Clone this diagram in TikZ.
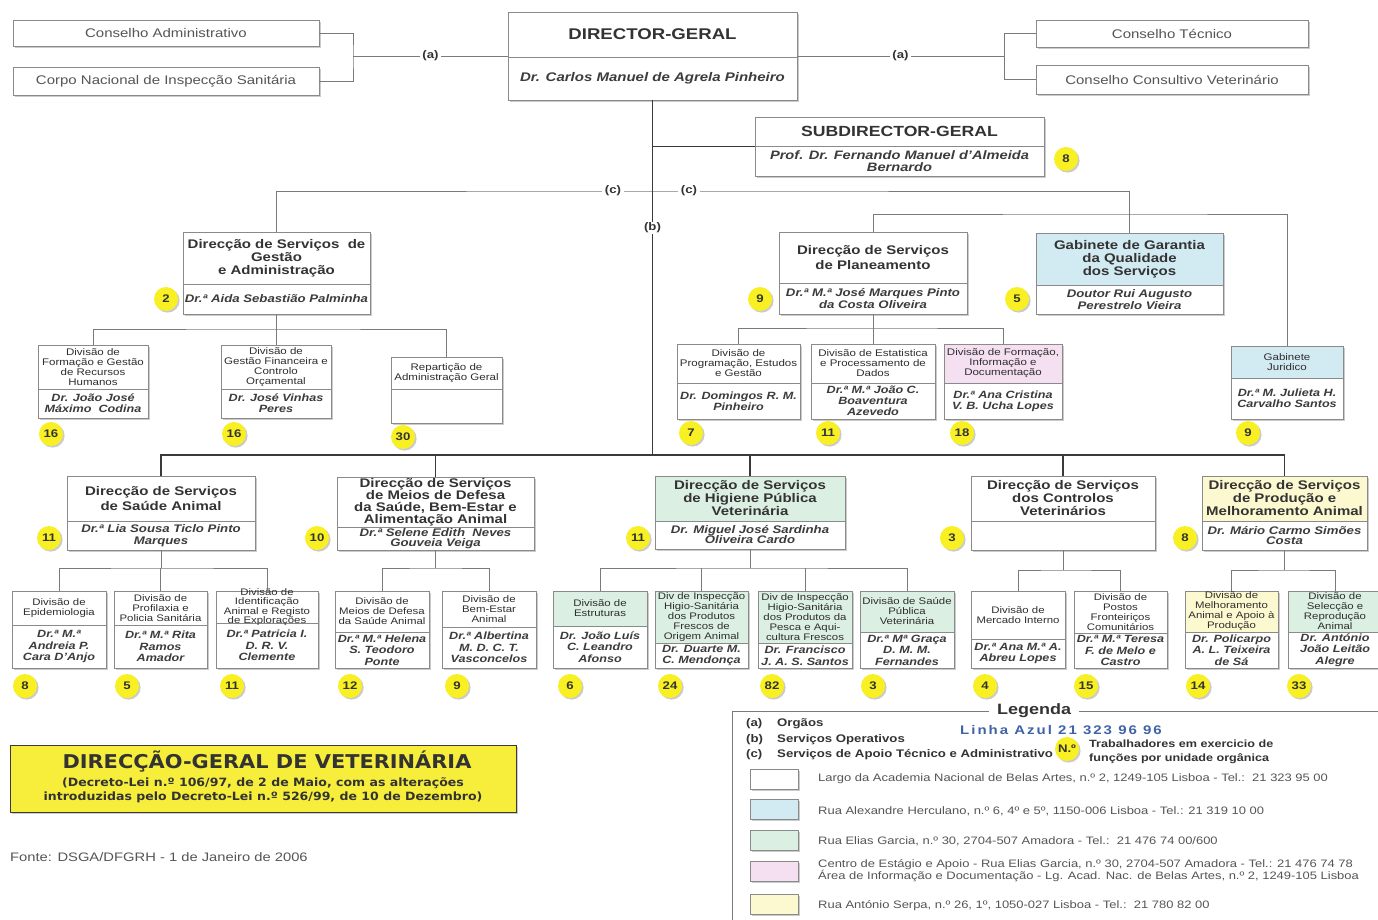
\documentclass[tikz,border=0pt]{standalone}
\usepackage{fontspec}
\setmainfont{Liberation Sans}[FakeStretch=1.2]
\newfontfamily\dvs{DejaVu Sans}[FakeStretch=1.1]
\usetikzlibrary{fit,shadows}
\definecolor{txtc}{HTML}{333333}
\definecolor{nmc}{HTML}{3C3C3C}
\definecolor{divc}{HTML}{2E2E2E}
\definecolor{linec}{HTML}{7A7A7A}
\definecolor{darkc}{HTML}{3A3A3A}
\definecolor{boxc}{HTML}{8A8A8A}
\definecolor{cblue}{HTML}{D2EAF1}
\definecolor{cgreen}{HTML}{DCEFE3}
\definecolor{cpink}{HTML}{F4E0F0}
\definecolor{cyel}{HTML}{FCF9D0}
\definecolor{badgec}{HTML}{F8F022}
\definecolor{tyel}{HTML}{F6EE3A}
\definecolor{azulc}{HTML}{3F62A8}
\definecolor{legc}{HTML}{555555}
\newcommand\fsz[2]{\fontsize{#1}{#2}\selectfont}
% name, x1, y1, x2, ydivider, y2, top fill, title, person
\newcommand\obox[9]{%
  \node[fit={(#2,#3)(#4,#6)}, inner sep=0pt, outer sep=0pt, fill=white, shad] (#1) {};
  \fill[#7] (#2,#3) rectangle (#4,#5);
  \draw[bx] (#2,#5) -- (#4,#5);
  \draw[bx] (#1.north west) rectangle (#1.south east);
  \node[ttl] (#1t) at ({(#2+#4)/2},{(#3+#5)/2}) {#8};
  \node[nm] (#1n) at ({(#2+#4)/2},{(#5+#6)/2}) {#9};
}
\newcommand\badge[3]{\node[bdg] (#1) at (#2) {#3};}
\begin{document}
\begin{tikzpicture}[x=1pt,y=-1pt,
  lin/.style={draw=linec, line width=0.9pt},
  trunk/.style={draw=darkc, line width=1.5pt},
  bx/.style={draw=boxc, line width=0.8pt},
  shad/.style={drop shadow={shadow xshift=1.6pt, shadow yshift=-1.6pt, opacity=0.45, fill=black!45}},
  sbox/.style={draw=boxc, line width=0.8pt, fill=white, shad, inner sep=0pt, outer sep=0pt, font=\fsz{12.5}{14}, text=legc},
  lbl/.style={fill=white, inner xsep=2.5pt, inner ysep=1pt, font=\bfseries\fsz{11}{12}, text=txtc},
  bdg/.style={circle, fill=badgec, minimum size=24pt, inner sep=0pt, shad, font=\bfseries\fsz{11}{12}, text=txtc},
  ttl/.style={align=center, inner sep=0pt, text=txtc},
  nm/.style={align=center, inner sep=0pt, text=nmc},
  legb/.style={font=\bfseries\fsz{11}{12}, text=txtc, inner sep=0pt},
  legt/.style={font=\fsz{10.8}{12.2}, text=legc, inner sep=0pt, align=left},
  sw/.style={draw=boxc, line width=0.8pt, minimum width=48pt, minimum height=20pt, inner sep=0pt, shad},
]
\path[use as bounding box, fill=white] (0,0) rectangle (1378,920);

% ---------- top level ----------
\node[sbox, minimum width=306pt, minimum height=26pt] (ca) at (166,33) {Conselho Administrativo};
\node[sbox, minimum width=306pt, minimum height=28pt] (cn) at (166,81) {Corpo Nacional de Inspecção Sanitária};
\node[sbox, minimum width=272pt, minimum height=27pt] (ct) at (1172,33.5) {Conselho Técnico};
\node[sbox, minimum width=272pt, minimum height=29pt] (cc) at (1172,79.5) {Conselho Consultivo Veterinário};

\begin{scope}[ttl/.append style={font=\bfseries\fsz{15.5}{16}}, nm/.append style={font=\bfseries\itshape\fsz{12.5}{12}}]
\obox{dg}{508}{12}{797}{57}{100}{white}{DIRECTOR-GERAL}{Dr. Carlos Manuel de Agrela Pinheiro}
\end{scope}
\begin{scope}[ttl/.append style={font=\bfseries\fsz{14.7}{15}}, nm/.append style={font=\bfseries\itshape\fsz{12.2}{11.5}}]
\obox{sd}{755}{117}{1044}{146}{176}{white}{SUBDIRECTOR-GERAL}{Prof. Dr. Fernando Manuel d'Almeida\\Bernardo}
\end{scope}

% ---------- first level ----------
\begin{scope}[ttl/.append style={font=\bfseries\fsz{12.5}{13}}, nm/.append style={font=\bfseries\itshape\fsz{11}{12}}]
\obox{dsga}{183}{232}{370}{284}{314}{white}{Direcção de Serviços\ \ de\\Gestão\\e Administração}{Dr.ª Aida Sebastião Palminha}
\obox{dsp}{779}{232}{967}{283}{314}{white}{Direcção de Serviços\\[2pt]de Planeamento}{Dr.ª M.ª José Marques Pinto\\da Costa Oliveira}
\obox{ggqs}{1036}{233}{1223}{285}{314}{cblue}{Gabinete de Garantia\\da Qualidade\\dos Serviços}{Doutor Rui Augusto\\Perestrelo Vieira}
\end{scope}

\begin{scope}[ttl/.append style={font=\fsz{9.6}{10}, text=divc}, nm/.append style={font=\bfseries\itshape\fsz{10.5}{11}}]
\obox{dfg}{38}{345}{148}{389}{418}{white}{Divisão de\\Formação e Gestão\\de Recursos\\Humanos}{Dr. João José\\Máximo\ \ Codina}
\obox{dgf}{221}{345}{331}{389}{418}{white}{Divisão de\\Gestão Financeira e\\Controlo\\Orçamental}{Dr. José Vinhas\\Peres}
\obox{rag}{391}{357}{502}{389}{423}{white}{Repartição de\\Administração Geral}{}
\obox{dpe}{677}{344}{800}{383}{419}{white}{Divisão de\\Programação, Estudos\\e Gestão}{Dr. Domingos R. M.\\Pinheiro}
\obox{dep}{811}{344}{935}{383}{419}{white}{Divisão de Estatistica\\e Processamento de\\Dados}{Dr.ª M.ª João C.\\Boaventura\\Azevedo}
\obox{dfi}{944}{344}{1062}{383}{419}{cpink}{Divisão de Formação,\\Informação e\\Documentação}{Dr.ª Ana Cristina\\V. B. Ucha Lopes}
\obox{gj}{1231}{346}{1343}{378}{419}{cblue}{Gabinete\\Juridico}{Dr.ª M. Julieta H.\\Carvalho Santos}
\end{scope}

% ---------- second level ----------
\begin{scope}[ttl/.append style={font=\bfseries\fsz{12.5}{13}}, nm/.append style={font=\bfseries\itshape\fsz{11}{11.5}}]
\obox{dssa}{67}{476}{255}{521}{550}{white}{Direcção de Serviços\\[2pt]de Saúde Animal}{Dr.ª Lia Sousa Ticlo Pinto\\Marques}
\obox{dsmd}{337}{477}{534}{527}{550}{white}{Direcção de Serviços\\[-1pt]de Meios de Defesa\\[-1pt]da Saúde, Bem-Estar e\\[-1pt]Alimentação Animal}{Dr.ª Selene Edith\ \ Neves\\[-1.8pt]Gouveia Veiga}
\obox{dshpv}{655}{476}{845}{521}{549}{cgreen}{Direcção de Serviços\\de Higiene Pública\\Veterinária}{Dr. Miguel José Sardinha\\[-1.5pt]Oliveira Cardo}
\obox{dscv}{971}{476}{1155}{521}{550}{white}{Direcção de Serviços\\dos Controlos\\Veterinários}{}
\obox{dspma}{1202}{476}{1367}{521}{550}{cyel}{Direcção de Serviços\\de Produção e\\Melhoramento Animal}{Dr. Mário Carmo Simões\\[-1pt]Costa}
\end{scope}

% ---------- third level ----------
\begin{scope}[ttl/.append style={font=\fsz{9.5}{10}, text=divc}, nm/.append style={font=\bfseries\itshape\fsz{10.5}{11.5}}]
\obox{dep1}{12}{591}{106}{625}{668}{white}{Divisão de\\Epidemiologia}{Dr.ª M.ª\\Andreia P.\\Cara D'Anjo}
\obox{dpp}{114}{591}{207}{625}{668}{white}{Divisão de\\Profilaxia e\\Policia Sanitária}{Dr.ª M.ª Rita\\Ramos\\Amador}
\obox{dia}{216}{591}{318}{623}{668}{white}{Divisão de\\[-0.8pt]Identificação\\[-0.8pt]Animal e Registo\\[-0.8pt]de Explorações}{Dr.ª Patricia I.\\D. R. V.\\Clemente}
\obox{dmd}{335}{591}{429}{632}{668}{white}{Divisão de\\Meios de Defesa\\da Saúde Animal}{Dr.ª M.ª Helena\\S. Teodoro\\Ponte}
\obox{dbe}{442}{591}{536}{627}{668}{white}{Divisão de\\Bem-Estar\\Animal}{Dr.ª Albertina\\M. D. C. T.\\Vasconcelos}
\obox{des}{553}{591}{647}{626}{668}{cgreen}{Divisão de\\Estruturas}{Dr. João Luís\\C. Leandro\\Afonso}
\obox{dio}{655}{591}{748}{643}{668}{cgreen}{Div de Inspecção\\Higio-Sanitária\\dos Produtos\\Frescos de\\Origem Animal}{Dr. Duarte M.\\C. Mendonça}
\obox{dip}{758}{591}{852}{643}{668}{cgreen}{Div de Inspecção\\Higio-Sanitária\\dos Produtos da\\Pesca e Aqui-\\cultura Frescos}{Dr. Francisco\\J. A. S. Santos}
\obox{dspv}{860}{591}{954}{632}{668}{cgreen}{Divisão de Saúde\\Pública\\Veterinária}{Dr.ª Mª Graça\\D. M. M.\\Fernandes}
\obox{dmi}{971}{591}{1065}{639}{668}{white}{Divisão de\\Mercado Interno}{Dr.ª Ana M.ª A.\\Abreu Lopes}
\obox{dpf}{1074}{591}{1167}{633}{668}{white}{Divisão de\\Postos\\Fronteiriços\\Comunitários}{Dr.ª M.ª Teresa\\F. de Melo e\\Castro}
\obox{dma}{1185}{591}{1278}{632}{668}{cyel}{Divisão de\\Melhoramento\\Animal e Apoio à\\Produção}{Dr. Policarpo\\A. L. Teixeira\\de Sá}
\obox{dsr}{1288}{591}{1382}{632}{668}{cgreen}{Divisão de\\Selecção e\\Reprodução\\Animal}{Dr. António\\João Leitão\\Alegre}
\end{scope}

% ---------- connectors ----------
\coordinate (ja) at (353,56);
\coordinate (jb) at (1004,56);
\draw[lin] (ca.east) -| (ja) |- (cn.east);
\draw[lin] (ja) -- node[lbl] (la1) {(a)} (dg.west);
\draw[lin] (ct.west) -| (jb) |- (cc.west);
\draw[lin] (dg.east) -- node[lbl] (la2) {(a)} (jb);

\coordinate (tb) at (652.5,455);
\coordinate (cl) at (652.5,191);
\coordinate (cr) at (1129.5,214);
\draw[lin] (dsga.north) |- (cl) -| (ggqs.north);
\draw[trunk] (dg.south) -- (tb);
\draw[trunk] (sd.west) -- (sd.west -| dg.south);
\node[lbl] (lc1) at (613,191) {(c)};
\node[lbl] (lc2) at (689,191) {(c)};
\node[lbl] (lbb) at (652.5,228) {(b)};
\draw[lin] (dsp.north) |- (cr) -| (gj.north);

\coordinate (ba) at (276.5,329);
\draw[lin] (dsga.south) -- (ba);
\draw[lin] (dfg.north) |- (ba) -| (rag.north);
\draw[lin] (dgf.north) -- (dgf.north |- ba);

\coordinate (bp) at (873,328);
\draw[lin] (dsp.south) -- (bp);
\draw[lin] (dpe.north) |- (bp) -| (dfi.north);
\draw[lin] (dep.north) -- (dep.north |- bp);

\draw[trunk] (dssa.north) |- (tb) -| (dspma.north);
\draw[trunk] (dsmd.north) -- (dsmd.north |- tb);
\draw[trunk] (dshpv.north) -- (dshpv.north |- tb);
\draw[trunk] (dscv.north) -- (dscv.north |- tb);

\coordinate (b2a) at (161,568);
\draw[lin] (dssa.south) -- (b2a);
\draw[lin] (dep1.north) |- (b2a) -| (dia.north);
\draw[lin] (dpp.north) -- (dpp.north |- b2a);

\coordinate (b2b) at (435.5,568);
\draw[lin] (dsmd.south) -- (b2b);
\draw[lin] (dmd.north) |- (b2b) -| (dbe.north);

\coordinate (b2c) at (750,568);
\draw[lin] (dshpv.south) -- (b2c);
\draw[lin] (des.north) |- (b2c) -| (dspv.north);
\draw[lin] (dio.north) -- (dio.north |- b2c);
\draw[lin] (dip.north) -- (dip.north |- b2c);

\coordinate (b2d) at (1063,570);
\draw[lin] (dscv.south) -- (b2d);
\draw[lin] (dmi.north) |- (b2d) -| (dpf.north);

\coordinate (b2e) at (1284.5,570);
\draw[lin] (dspma.south) -- (b2e);
\draw[lin] (dma.north) |- (b2e) -| (dsr.north);

% ---------- badges ----------
\badge{k1}{1066,159}{8}
\badge{k2}{166,299}{2}
\badge{k3}{760,299}{9}
\badge{k4}{1017,299}{5}
\badge{k5}{51,434}{16}
\badge{k6}{234,434}{16}
\badge{k7}{403,437}{30}
\badge{k8}{691,433}{7}
\badge{k9}{828,433}{11}
\badge{k10}{962,433}{18}
\badge{k11}{1248,433}{9}
\badge{k12}{49,538}{11}
\badge{k13}{317,538}{10}
\badge{k14}{638,538}{11}
\badge{k15}{952,538}{3}
\badge{k16}{1185,538}{8}
\badge{k17}{25,686}{8}
\badge{k18}{127,686}{5}
\badge{k19}{232,686}{11}
\badge{k20}{350,686}{12}
\badge{k21}{457,686}{9}
\badge{k22}{570,686}{6}
\badge{k23}{670,686}{24}
\badge{k24}{772,686}{82}
\badge{k25}{873,686}{3}
\badge{k26}{985,686}{4}
\badge{k27}{1086,686}{15}
\badge{k28}{1198,686}{14}
\badge{k29}{1299,686}{33}

% ---------- title box ----------
\node[fill=tyel, draw=darkc, line width=0.8pt, shad, minimum width=506pt, minimum height=67pt, inner sep=0pt] (tbox) at (263,778.5) {};
\node[font=\dvs\bfseries\fsz{19}{19}, text=txtc, inner sep=0pt] (tt1) at (267,762) {DIRECÇÃO-GERAL DE VETERINÁRIA};
\node[font=\dvs\bfseries\fsz{11.4}{14.5}, text=txtc, inner sep=0pt, align=center] (tt2) at (263,790) {(Decreto-Lei n.º 106/97, de 2 de Maio, com as alterações\\introduzidas pelo Decreto-Lei n.º 526/99, de 10 de Dezembro)};
\node[font=\fsz{12.3}{14}, text=legc, anchor=west, inner sep=0pt] (fonte) at (10,857) {Fonte: DSGA/DFGRH - 1 de Janeiro de 2006};

% ---------- legend ----------
\draw[lin] (732,921) |- (1380,711);
\node[fill=white, font=\bfseries\fsz{15}{16}, text=txtc, inner xsep=8pt, inner ysep=1pt] (leg) at (1034,711) {Legenda};
\node[legb, anchor=base west] (lga) at (746,726) {(a)};
\node[legb, anchor=base west] (lgat) at (777,726) {Orgãos};
\node[legb, anchor=base west] (lgb) at (746,742) {(b)};
\node[legb, anchor=base west] (lgbt) at (777,742) {Serviços Operativos};
\node[legb, anchor=base west] (lgc) at (746,757) {(c)};
\node[legb, anchor=base west] (lgct) at (777,757) {Serviços de Apoio Técnico e Administrativo};
\node[font=\bfseries\fsz{12.5}{13}\addfontfeatures{LetterSpace=16}, text=azulc, inner sep=0pt] (lz) at (1061,730) {Linha Azul 21 323 96 96};
\badge{kn}{1067,749}{N.º}
\node[anchor=west, align=left, font=\bfseries\fsz{10.5}{13.5}, text=txtc, inner sep=0pt] (ltr) at (1089,752) {Trabalhadores em exercicio de\\funções por unidade orgânica};

\node[sw, fill=white] (s1) at (774,779) {};
\node[sw, fill=cblue] (s2) at (774,809) {};
\node[sw, fill=cgreen] (s3) at (774,840) {};
\node[sw, fill=cpink] (s4) at (774,871) {};
\node[sw, fill=cyel] (s5) at (774,904) {};
\node[legt, anchor=west] (t1) at (818,779) {Largo da Academia Nacional de Belas Artes, n.º 2, 1249-105 Lisboa - Tel.:\ \ 21 323 95 00};
\node[legt, anchor=west] (t2) at (818,811) {Rua Alexandre Herculano, n.º 6, 4º e 5º, 1150-006 Lisboa - Tel.: 21 319 10 00};
\node[legt, anchor=west] (t3) at (818,841) {Rua Elias Garcia, n.º 30, 2704-507 Amadora - Tel.:\ \ 21 476 74 00/600};
\node[legt, anchor=west] (t4) at (818,871) {Centro de Estágio e Apoio - Rua Elias Garcia, n.º 30, 2704-507 Amadora - Tel.: 21 476 74 78\\Área de Informação e Documentação - Lg. Acad. Nac. de Belas Artes, n.º 2, 1249-105 Lisboa};
\node[legt, anchor=west] (t5) at (818,906) {Rua António Serpa, n.º 26, 1º, 1050-027 Lisboa - Tel.:\ \ 21 780 82 00};
\end{tikzpicture}
\end{document}
